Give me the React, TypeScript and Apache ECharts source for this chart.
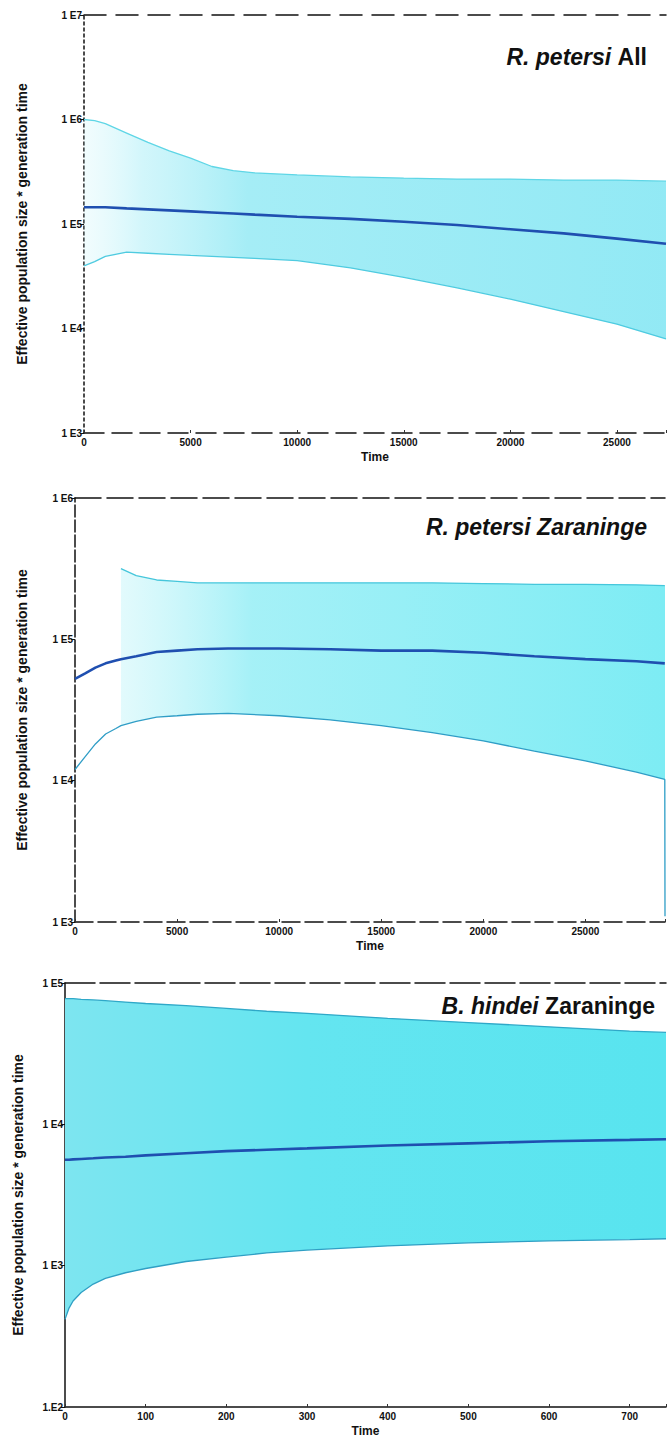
import React, { useEffect, useRef } from 'react';
import * as echarts from 'echarts';

// ---------- Panel 1: R. petersi All ----------
const timeAll = [0, 500, 1000, 2000, 3000, 4000, 5000, 6000, 7000, 8000, 10000, 12500, 15000, 17500, 20000, 22500, 25000, 27300];
const upperAll = [1000000, 977000, 912000, 741000, 603000, 501000, 427000, 355000, 324000, 309000, 295000, 282000, 275000, 269000, 269000, 263000, 263000, 257000];
const medianAll = [144500, 144500, 144500, 141000, 138000, 135000, 132000, 129000, 126000, 123000, 117500, 112000, 105000, 97700, 89100, 81300, 72400, 64600];
const lowerAll = [39800, 43600, 49000, 53700, 52500, 51300, 50100, 49000, 47900, 46800, 44700, 38000, 30900, 24500, 19100, 14500, 11000, 7940];
const yLabelsAll = ['1 E3', '1 E4', '1 E5', '1 E6', '1 E7'];

// ---------- Panel 2: R. petersi Zaraninge ----------
const timeZar = [0, 500, 1000, 1500, 2000, 2250, 3000, 4000, 5000, 6000, 7500, 10000, 12500, 15000, 17500, 20000, 22500, 25000, 27500, 28890, 28900];
const upperZar = [null, null, null, null, null, 316000, 282000, 263000, 257000, 251000, 251000, 251000, 251000, 251000, 251000, 248000, 245000, 245000, 243000, 240000, 240000];
const medianZar = [52500, 57500, 63100, 67600, 70800, 72400, 75900, 81300, 83200, 85100, 86100, 86100, 85100, 83200, 83200, 80400, 75900, 72400, 70000, 67600, 67600];
const lowerZar = [12000, 14800, 18200, 21400, 23400, 24500, 26300, 28200, 28800, 29500, 29900, 28800, 26900, 24500, 21900, 19100, 16200, 13800, 11500, 10200, 1100];
const yLabelsZar = ['1 E3', '1 E4', '1 E5', '1 E6'];

// ---------- Panel 3: B. hindei Zaraninge ----------
const timeHin = [0, 5, 10, 20, 35, 50, 75, 100, 150, 200, 250, 300, 400, 500, 600, 700, 745];
const upperHin = [77600, 77600, 77600, 76700, 75900, 75000, 73300, 71600, 69200, 66100, 63100, 61000, 56200, 52500, 49000, 45700, 44700];
const medianHin = [5620, 5620, 5650, 5690, 5750, 5820, 5890, 6030, 6240, 6460, 6610, 6760, 7080, 7330, 7590, 7760, 7850];
const lowerHin = [417, 501, 562, 646, 741, 813, 891, 955, 1070, 1150, 1230, 1290, 1380, 1450, 1500, 1530, 1550];
const yLabelsHin = ['1.E2', '1 E3', '1 E4', '1 E5'];

const FONT = "'Liberation Sans', Arial, sans-serif";
const Y_NAME = 'Effective population size * generation time';

function pairs(t: number[], v: (number | null)[]) {
  return t.map((x, i) => [x, v[i] == null ? null : v[i]]);
}

type Panel = {
  time: number[]; upper: (number | null)[]; median: number[]; lower: number[];
  labels: string[]; minExp: number; maxExp: number;
  grid: { left: number; top: number; height: number; right: number };
  xMax: number; xInterval: number; nameGapY: number;
  leftDash: any; bottomDash: any; topDash: any;
  fill: { offset: number; color: string }[];
  hpdUp: string; hpdLow: string;
  title: string; titleRight: number; titleTop: number;
};

const panels: Panel[] = [
  {
    time: timeAll, upper: upperAll, median: medianAll, lower: lowerAll,
    labels: yLabelsAll, minExp: 3, maxExp: 7,
    grid: { left: 84, top: 15, height: 418, right: 0 },
    xMax: 27300, xInterval: 5000, nameGapY: 55,
    leftDash: [3, 3], bottomDash: [20, 8], topDash: [22, 10],
    fill: [
      { offset: 0, color: 'rgba(210,247,251,0.3)' },
      { offset: 0.1, color: 'rgba(180,240,248,0.6)' },
      { offset: 0.28, color: 'rgba(155,235,245,0.9)' },
      { offset: 1, color: 'rgba(140,232,244,0.95)' },
    ],
    hpdUp: '#5fd6e6', hpdLow: '#4fcbe0',
    title: '{i|R. petersi} {n|All}', titleRight: 17, titleTop: 40,
  },
  {
    time: timeZar, upper: upperZar, median: medianZar, lower: lowerZar,
    labels: yLabelsZar, minExp: 3, maxExp: 6,
    grid: { left: 75, top: 498, height: 424, right: 4 },
    xMax: 28900, xInterval: 5000, nameGapY: 46,
    leftDash: [12, 3], bottomDash: [18, 5], topDash: [26, 6],
    fill: [
      { offset: 0, color: 'rgba(210,247,251,0.2)' },
      { offset: 0.08, color: 'rgba(190,244,249,0.45)' },
      { offset: 0.3, color: 'rgba(155,239,246,0.9)' },
      { offset: 1, color: 'rgba(125,236,244,1)' },
    ],
    hpdUp: '#45c6db', hpdLow: '#2f9dc6',
    title: '{i|R. petersi Zaraninge}', titleRight: 17, titleTop: 510,
  },
  {
    time: timeHin, upper: upperHin, median: medianHin, lower: lowerHin,
    labels: yLabelsHin, minExp: 2, maxExp: 5,
    grid: { left: 65, top: 983, height: 424, right: 0 },
    xMax: 745, xInterval: 100, nameGapY: 40,
    leftDash: 'solid', bottomDash: 'solid', topDash: [30, 5],
    fill: [
      { offset: 0, color: 'rgba(125,229,240,1)' },
      { offset: 0.4, color: 'rgba(100,229,240,1)' },
      { offset: 1, color: 'rgba(88,228,239,1)' },
    ],
    hpdUp: '#2fa8c8', hpdLow: '#2f9fc4',
    title: '{i|B. hindei} {n|Zaraninge}', titleRight: 9, titleTop: 989,
  },
];

export default function App() {
  const ref = useRef<HTMLDivElement>(null);
  useEffect(() => {
    if (!ref.current) return;
    const chart = echarts.init(ref.current, undefined, { renderer: 'svg' });

    const grids: any[] = [];
    const xAxes: any[] = [];
    const yAxes: any[] = [];
    const series: any[] = [];
    const titles: any[] = [];

    panels.forEach((p, i) => {
      grids.push({ ...p.grid, containLabel: false });
      xAxes.push({
        type: 'value', gridIndex: i, min: 0, max: p.xMax, interval: p.xInterval,
        position: 'bottom',
        axisLine: { show: true, onZero: false, lineStyle: { color: '#111', width: 1.5, type: p.bottomDash } },
        axisTick: { show: true, inside: true, length: 3, lineStyle: { color: '#333' } },
        axisLabel: {
          show: true, margin: 4, color: '#111', fontSize: 10, fontWeight: 'bold', fontFamily: FONT,
          formatter: (v: number) => (v % p.xInterval === 0 ? String(v) : ''),
        },
        splitLine: { show: false },
        name: 'Time', nameLocation: 'middle', nameGap: 18,
        nameTextStyle: { fontSize: 12, fontWeight: 'bold', color: '#111', fontFamily: FONT },
      });
      yAxes.push({
        type: 'log', logBase: 10, gridIndex: i,
        min: Math.pow(10, p.minExp), max: Math.pow(10, p.maxExp),
        axisLine: { show: true, lineStyle: { color: '#111', width: 1.5, type: p.leftDash } },
        axisTick: { show: true, length: 4, lineStyle: { color: '#111' } },
        axisLabel: {
          margin: 2, color: '#111', fontSize: 10, fontWeight: 'bold', fontFamily: FONT,
          formatter: (v: number) => {
            const e = Math.round(Math.log10(v));
            return p.labels[e - p.minExp] ?? '';
          },
        },
        splitLine: { show: false },
        minorTick: { show: false },
        name: Y_NAME, nameLocation: 'middle', nameGap: p.nameGapY, nameRotate: 90,
        nameTextStyle: { fontSize: 14, fontWeight: 'bold', color: '#111', fontFamily: FONT },
      });
      titles.push({
        text: p.title, right: p.titleRight, top: p.titleTop,
        textStyle: {
          fontFamily: FONT, fontSize: 23, fontWeight: 'bold', color: '#111',
          rich: {
            i: { fontFamily: FONT, fontSize: 23, fontWeight: 'bold', fontStyle: 'italic', color: '#111' },
            n: { fontFamily: FONT, fontSize: 23, fontWeight: 'bold', color: '#111' },
          },
        },
      });

      // HPD band as one polygon, through the axes' own scales
      const bandRows = p.time
        .map((t, k) => [t, p.lower[k], p.upper[k]])
        .filter((r) => r[2] != null);
      const gridLeft = p.grid.left;
      const gridRight = 669 - p.grid.right;
      series.push({
        type: 'custom', xAxisIndex: i, yAxisIndex: i, z: 1, clip: true,
        encode: { x: 0, y: [1, 2] },
        data: bandRows,
        renderItem: (params: any, api: any) => {
          if (params.dataIndex !== 0) return null;
          const top: number[][] = [];
          const bot: number[][] = [];
          for (const r of bandRows) {
            top.push(api.coord([r[0], r[2]]));
            bot.push(api.coord([r[0], r[1]]));
          }
          const pts = top.concat(bot.reverse());
          return {
            type: 'polygon',
            shape: { points: pts },
            style: {
              fill: new echarts.graphic.LinearGradient(gridLeft, 0, gridRight, 0, p.fill, true),
              stroke: 'none',
            },
          };
        },
      });
      series.push({
        type: 'line', xAxisIndex: i, yAxisIndex: i, symbol: 'none', z: 3,
        data: pairs(p.time, p.lower),
        lineStyle: { color: p.hpdLow, width: 1.3 },
      });
      series.push({
        type: 'line', xAxisIndex: i, yAxisIndex: i, symbol: 'none', z: 3,
        data: pairs(p.time, p.upper),
        lineStyle: { color: p.hpdUp, width: 1.3 },
      });
      series.push({
        type: 'line', xAxisIndex: i, yAxisIndex: i, symbol: 'none', z: 4,
        data: pairs(p.time, p.median),
        lineStyle: { color: '#1f4fb0', width: 2.6 },
      });
    });

    // top frame lines
    panels.forEach((p, i) => {
      xAxes.push({
        type: 'value', gridIndex: i, min: 0, max: p.xMax, position: 'top',
        axisLine: { show: true, onZero: false, lineStyle: { color: '#111', width: 1.5, type: p.topDash } },
        axisTick: { show: false }, axisLabel: { show: false }, splitLine: { show: false },
      });
    });

    chart.setOption({
      animation: false,
      backgroundColor: '#ffffff',
      textStyle: { fontFamily: FONT },
      title: titles,
      grid: grids,
      xAxis: xAxes,
      yAxis: yAxes,
      series,
    });
    return () => chart.dispose();
  }, []);

  return (
    <div
      ref={ref}
      style={{ position: 'absolute', left: 0, top: 0, width: 669, height: 1443, background: '#fff' }}
    />
  );
}
